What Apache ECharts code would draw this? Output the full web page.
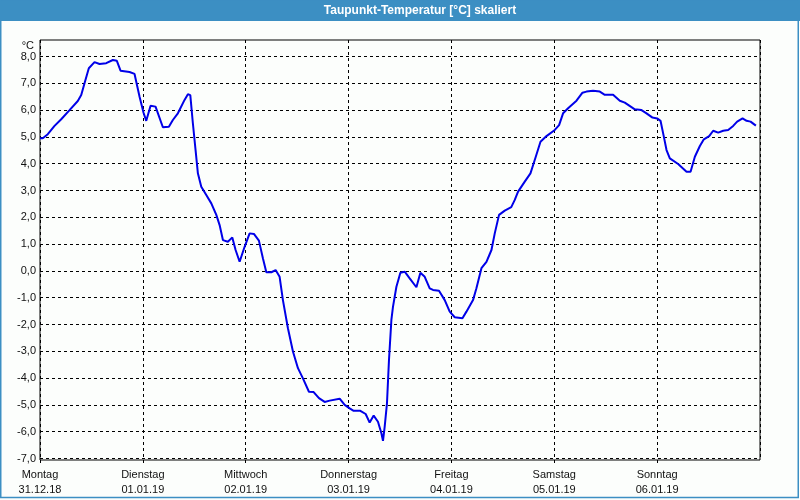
<!DOCTYPE html>
<html><head><meta charset="utf-8">
<script src="https://cdn.jsdelivr.net/npm/echarts@6/dist/echarts.min.js"></script>
<style>html,body{margin:0;padding:0;background:#fcfefc}#c{width:800px;height:500px}</style>
</head><body><div id="c"></div>
<script>
const chartTitle = 'Taupunkt-Temperatur [°C] skaliert';
const unitLabel = '°C';
const dayNames = ['Montag','Dienstag','Mittwoch','Donnerstag','Freitag','Samstag','Sonntag'];
const dayDates = ['31.12.18','01.01.19','02.01.19','03.01.19','04.01.19','05.01.19','06.01.19'];
// hours since Monday 00:00
const hours = [0,0.65,1.82,3.39,4.95,6.89,8.82,9.62,10.39,11.39,12.72,13.89,15.45,17.0,17.93,18.79,20.89,22.06,23.23,24.16,
24.79,25.8,26.96,28.67,30.07,31.0,32.17,33.73,34.51,35.07,35.67,36.3,36.84,37.63,38.8,39.97,41.14,41.91,42.68,43.84,
44.87,45.64,46.58,47.74,48.91,49.91,51.08,52.01,52.81,53.98,54.98,55.91,56.68,57.85,59.02,60.19,61.35,62.75,63.85,65.09,
66.42,67.59,67.98,69.92,71.09,72.26,73.19,74.75,75.99,76.92,77.86,78.86,79.66,80.03,80.43,80.96,81.43,81.99,82.36,83.16,
84.09,85.1,86.26,87.83,88.76,89.77,90.93,91.7,93.1,94.44,95.6,96.77,98.57,99.5,101.04,101.83,103.0,104.17,105.34,106.11,
107.11,108.44,109.96,110.78,111.55,113.11,114.44,115.68,116.78,118.18,120.12,121.12,122.05,123.22,125.18,126.58,127.51,129.05,130.62,131.79,
133.72,135.29,136.45,138.79,140.35,141.52,142.92,144.0,144.79,145.56,146.19,146.96,148.9,150.86,151.8,152.8,153.97,154.9,156.14,157.07,
158.24,159.41,160.57,161.74,162.67,163.93,164.87,165.8,167.04];
const dewPoint = [4.95,4.95,5.10,5.41,5.66,6.00,6.34,6.56,7.00,7.56,7.79,7.72,7.75,7.87,7.84,7.47,7.42,7.35,6.50,5.90,
5.60,6.16,6.13,5.36,5.38,5.63,5.88,6.38,6.59,6.56,5.51,4.51,3.64,3.14,2.83,2.52,2.09,1.71,1.15,1.09,
1.25,0.78,0.34,0.90,1.40,1.38,1.13,0.47,-0.05,-0.05,0.03,-0.22,-1.09,-2.14,-3.01,-3.63,-4.01,-4.51,-4.52,-4.75,
-4.89,-4.84,-4.77,-4.77,-5.00,-5.13,-5.22,-5.22,-5.34,-5.66,-5.40,-5.63,-6.06,-6.34,-5.81,-4.94,-3.32,-1.83,-1.34,-0.59,
-0.07,-0.03,-0.28,-0.61,-0.07,-0.22,-0.65,-0.71,-0.74,-1.09,-1.52,-1.73,-1.77,-1.52,-1.09,-0.65,0.10,0.34,0.78,1.40,
2.09,2.25,2.38,2.65,2.96,3.33,3.64,4.26,4.82,5.03,5.26,5.44,5.88,6.07,6.35,6.65,6.69,6.72,6.69,6.57,
6.57,6.35,6.28,6.03,6.00,5.88,5.72,5.69,5.60,5.01,4.51,4.20,3.99,3.70,3.70,4.26,4.66,4.91,5.03,5.23,
5.16,5.23,5.26,5.41,5.57,5.69,5.60,5.57,5.42];
const yMin = -7, yMax = 8, yStep = 1;
const xMax = 168, xStep = 24;

const font = '"Liberation Sans", Arial, sans-serif';
const chart = echarts.init(document.getElementById('c'), null, {renderer:'canvas'});
const dash = {color:'#000', width:1, type:[3,3]};
chart.setOption({
  animation:false,
  backgroundColor:'#fcfefc',
  graphic:[
    {type:'rect', shape:{x:0,y:0,width:800,height:21}, style:{fill:'#3c8fc3'}},
    {type:'rect', shape:{x:0.75,y:0,width:797.5,height:497.5}, style:{fill:null, stroke:'#3c8fc3', lineWidth:1.5}},
    {type:'text', x:420, y:11, style:{text:chartTitle, fill:'#fff', font:'bold 12px '+font, align:'center', verticalAlign:'middle'}}
  ],
  grid:[
    {left:40, right:40, top:40, bottom:40, show:true, borderColor:'#000', borderWidth:1, backgroundColor:'transparent', outerBoundsMode:'none', containLabel:false},
    {left:40, right:40, top:56.5, bottom:41.5, show:false, outerBoundsMode:'none', containLabel:false}
  ],
  xAxis:[
    {type:'value', gridIndex:0, min:0, max:xMax, interval:xStep,
     axisLine:{show:false}, axisTick:{show:true, length:3, lineStyle:{color:'#000'}},
     splitLine:{show:true, lineStyle:dash},
     axisLabel:{show:true, margin:8, color:'#111', fontFamily:font, fontSize:11, lineHeight:14.5, align:'center',
       showMaxLabel:false,
       formatter:v=>{const i=Math.round(v/xStep); return i<dayNames.length? dayNames[i]+'\n'+dayDates[i] : '';}}},
    {type:'value', gridIndex:1, min:0, max:xMax, show:false, splitLine:{show:false}}
  ],
  yAxis:[
    {type:'value', gridIndex:0, show:false, min:0, max:1, splitLine:{show:false}},
    {type:'value', gridIndex:1, min:yMin, max:yMax, interval:yStep,
     name:unitLabel, nameLocation:'end', nameGap:11,
     nameTextStyle:{color:'#111', fontFamily:font, fontSize:11, align:'right', verticalAlign:'middle', padding:[0,6,0,0]},
     axisLine:{show:false}, axisTick:{show:false},
     splitLine:{show:true, lineStyle:dash},
     axisLabel:{margin:4, color:'#111', fontFamily:font, fontSize:11,
       formatter:v=>v.toFixed(1).replace('.',',')}}
  ],
  series:[{
    type:'line', xAxisIndex:1, yAxisIndex:1,
    data:hours.map((h,i)=>[h,dewPoint[i]]),
    showSymbol:false, symbol:'none', smooth:false,
    lineStyle:{color:'#0000e8', width:2}, itemStyle:{color:'#0000e8'},
    z:5
  }]
});
</script></body></html>
